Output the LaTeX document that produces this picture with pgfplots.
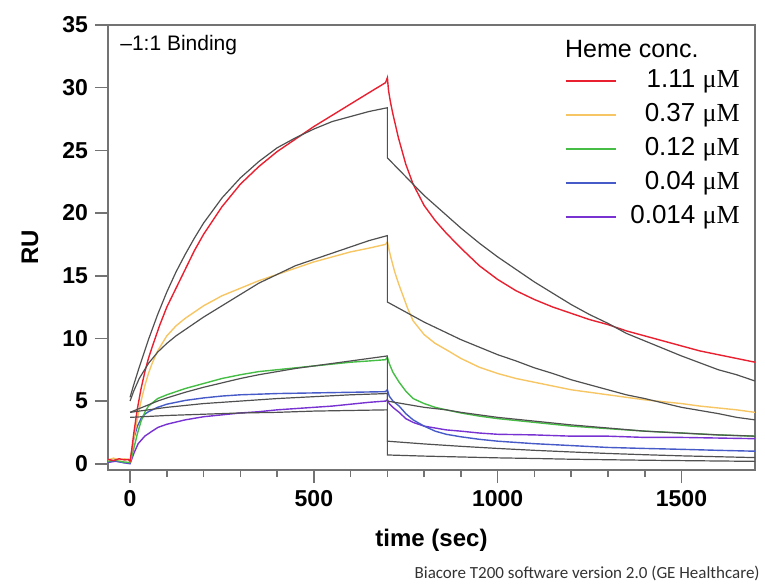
\documentclass[border=0pt]{standalone}
\usepackage{fontspec}
\setmainfont{Liberation Sans}
\newfontfamily\serif{Liberation Serif}
\newfontfamily\carlito{Carlito}
\usepackage{pgfplots}
\pgfplotsset{compat=1.18}
\definecolor{cred}{RGB}{232,32,48}
\definecolor{corange}{RGB}{247,198,100}
\definecolor{cgreen}{RGB}{70,190,70}
\definecolor{cblue}{RGB}{70,90,200}
\definecolor{cpurple}{RGB}{120,50,210}
\definecolor{cfit}{RGB}{80,80,80}
\definecolor{axgray}{RGB}{115,115,115}
\begin{document}
\begin{tikzpicture}
\useasboundingbox (-54pt,-58pt) rectangle (328.5pt,235pt);
\begin{axis}[
  scale only axis, width=323.5pt, height=222.5pt,
  xmin=-60, xmax=1700, ymin=-0.5, ymax=35,
  xtick={0,500,1000,1500}, minor x tick num=4,
  ytick={0,5,10,15,20,25,30,35},
  tick align=outside, tick pos=left,
  major tick length=6.5pt, minor tick length=3.5pt,
  axis line style={draw=axgray, line width=0.8pt},
  every tick/.style={draw=axgray, line width=0.8pt},
  /pgf/number format/assume math mode=true,
  /pgf/number format/1000 sep={},
  ticklabel style={font=\bfseries\fontsize{11.5}{13}\selectfont},
  xlabel={time (sec)}, ylabel={RU},
  xlabel style={at={(axis description cs:0.5,-0.1573)}, anchor=center, font=\bfseries\fontsize{12}{14}\selectfont},
  ylabel style={at={(axis description cs:-0.1206,0.5)}, anchor=center, rotate=0, font=\bfseries\fontsize{12}{14}\selectfont},
  legend style={at={(rel axis cs:0.98,0.908)}, anchor=north east, draw=none, fill=none,
    font=\fontsize{13}{15}\selectfont, row sep=2.5pt, inner sep=0pt,
    nodes={inner sep=1pt, text height=9.5pt, text depth=3pt},
    /tikz/every odd column/.style={column sep=6pt}},
  legend cell align=right,
  legend image code/.code={\draw[#1] (0pt,0pt) -- (25pt,0pt);},
  every axis plot/.append style={line width=0.7pt},
]
\addlegendimage{cred, line width=0.7pt}
\addlegendimage{corange, line width=0.7pt}
\addlegendimage{cgreen, line width=0.7pt}
\addlegendimage{cblue, line width=0.7pt}
\addlegendimage{cpurple, line width=0.7pt}
% experimental curves
\addplot[cpurple, forget plot] coordinates {(-60,0.1) (-40,0.2) (-20,0.1) (0,0.0) (5,0.4) (10,0.8) (22,1.6) (40,2.2) (60,2.6) (76,2.9) (100,3.15) (150,3.5) (200,3.75) (250,3.9) (300,4.05) (350,4.15) (400,4.3) (450,4.4) (500,4.5) (550,4.6) (600,4.75) (650,4.9) (695,5.0) (700,5.1) (705,4.8) (715,4.5) (732,4.1) (750,3.6) (770,3.3) (800,3.0) (830,2.85) (860,2.7) (900,2.6) (950,2.45) (1000,2.35) (1100,2.3) (1200,2.2) (1300,2.2) (1400,2.1) (1500,2.1) (1600,2.05) (1700,2.0)};
\addplot[cblue, forget plot] coordinates {(-60,0.15) (-40,0.25) (-20,0.1) (0,0.05) (5,1.0) (10,2.0) (20,3.0) (30,3.6) (40,3.95) (50,4.15) (75,4.5) (100,4.75) (150,5.05) (200,5.25) (250,5.4) (300,5.5) (400,5.6) (500,5.65) (600,5.7) (695,5.75) (700,5.9) (705,5.4) (715,5.0) (732,4.6) (750,4.0) (770,3.5) (800,3.0) (830,2.6) (860,2.35) (900,2.15) (950,1.95) (1000,1.8) (1100,1.6) (1200,1.45) (1300,1.3) (1400,1.22) (1500,1.15) (1600,1.07) (1700,1.0)};
\addplot[cgreen, forget plot] coordinates {(-60,0.2) (-40,0.3) (-20,0.15) (0,0.1) (5,0.6) (10,1.2) (20,2.4) (30,3.4) (40,4.1) (50,4.6) (75,5.2) (100,5.5) (125,5.75) (150,6.0) (200,6.4) (250,6.8) (300,7.1) (350,7.35) (400,7.5) (450,7.65) (500,7.8) (550,7.95) (600,8.1) (650,8.2) (695,8.3) (700,8.5) (705,8.0) (715,7.3) (732,6.5) (750,5.8) (770,5.2) (800,4.8) (830,4.5) (860,4.3) (900,4.05) (950,3.8) (1000,3.6) (1050,3.45) (1100,3.3) (1150,3.15) (1200,3.0) (1300,2.8) (1400,2.6) (1500,2.45) (1600,2.3) (1700,2.2)};
\addplot[corange, forget plot] coordinates {(-60,0.3) (-45,0.45) (-30,0.3) (-15,0.4) (-5,0.3) (0,0.2) (5,1.1) (10,2.0) (20,3.6) (30,5.0) (40,6.2) (50,7.2) (60,8.0) (75,9.0) (100,10.2) (125,11.0) (150,11.6) (175,12.1) (200,12.6) (250,13.4) (300,14.0) (350,14.6) (400,15.1) (450,15.6) (500,16.1) (550,16.5) (600,16.9) (650,17.2) (695,17.5) (700,17.7) (705,17.0) (710,16.4) (720,15.3) (730,14.4) (740,13.6) (755,12.4) (770,11.4) (800,10.3) (830,9.6) (860,9.1) (900,8.4) (950,7.7) (1000,7.2) (1050,6.8) (1100,6.5) (1150,6.2) (1200,5.9) (1250,5.7) (1300,5.5) (1350,5.3) (1400,5.1) (1450,4.95) (1500,4.8) (1550,4.6) (1600,4.45) (1650,4.3) (1700,4.1)};
\addplot[cred, forget plot] coordinates {(-60,0.35) (-45,0.25) (-30,0.4) (-15,0.3) (-5,0.35) (0,0.2) (5,1.2) (10,2.4) (20,4.4) (30,6.0) (40,7.3) (50,8.4) (60,9.3) (80,11.0) (100,12.5) (125,14.0) (150,15.5) (175,17.0) (200,18.3) (250,20.5) (300,22.3) (350,23.7) (400,24.9) (450,25.9) (500,26.9) (550,27.8) (600,28.7) (650,29.6) (695,30.4) (700,30.8) (703,29.8) (708,28.9) (715,27.9) (730,26.0) (750,23.9) (770,22.3) (800,20.6) (830,19.4) (860,18.4) (900,17.2) (950,15.8) (1000,14.7) (1050,13.8) (1100,13.1) (1150,12.5) (1200,12.0) (1250,11.5) (1300,11.1) (1350,10.6) (1400,10.2) (1450,9.8) (1500,9.4) (1550,9.0) (1600,8.7) (1650,8.4) (1700,8.1)};
% 1:1 binding fits
\addplot[cfit, line width=0.6pt, forget plot] coordinates {(0,3.7) (100,3.85) (200,3.95) (300,4.05) (400,4.1) (500,4.2) (600,4.25) (700,4.3) (700,0.7) (800,0.61) (900,0.54) (1000,0.47) (1100,0.42) (1200,0.36) (1300,0.32) (1400,0.28) (1500,0.25) (1600,0.22) (1700,0.19)};
\addplot[cfit, line width=0.6pt, forget plot] coordinates {(0,4.1) (50,4.3) (100,4.5) (150,4.65) (200,4.8) (300,5.0) (400,5.2) (500,5.35) (600,5.5) (700,5.6) (700,1.8) (800,1.58) (900,1.39) (1000,1.22) (1100,1.07) (1200,0.94) (1300,0.82) (1400,0.72) (1500,0.63) (1600,0.56) (1700,0.49)};
\addplot[cfit, line width=0.6pt, forget plot] coordinates {(0,4.1) (25,4.4) (50,4.7) (75,5.0) (100,5.25) (150,5.7) (200,6.1) (250,6.45) (300,6.8) (350,7.1) (400,7.35) (450,7.6) (500,7.8) (550,8.0) (600,8.2) (650,8.4) (700,8.6) (700,5.0) (760,4.7) (800,4.5) (860,4.3) (900,4.1) (1000,3.7) (1100,3.4) (1200,3.1) (1300,2.85) (1400,2.6) (1500,2.45) (1600,2.3) (1700,2.2)};
\addplot[cfit, line width=0.6pt, forget plot] coordinates {(0,5.0) (10,5.8) (25,6.8) (50,8.0) (75,8.9) (100,9.6) (125,10.2) (150,10.7) (200,11.7) (250,12.6) (300,13.5) (350,14.4) (400,15.1) (450,15.8) (500,16.3) (550,16.8) (600,17.3) (650,17.8) (700,18.2) (700,12.9) (750,12.1) (800,11.3) (850,10.6) (900,9.9) (950,9.3) (1000,8.7) (1050,8.2) (1100,7.65) (1150,7.2) (1200,6.7) (1250,6.3) (1300,5.9) (1350,5.5) (1400,5.2) (1450,4.85) (1500,4.5) (1550,4.25) (1600,4.0) (1650,3.7) (1700,3.5)};
\addplot[cfit, line width=0.6pt, forget plot] coordinates {(0,5.3) (10,6.3) (25,7.7) (50,9.9) (75,11.9) (100,13.7) (125,15.3) (150,16.7) (175,18.0) (200,19.2) (250,21.2) (300,22.8) (350,24.1) (400,25.2) (450,26.0) (500,26.7) (550,27.3) (600,27.7) (650,28.1) (700,28.4) (700,24.4) (750,22.9) (800,21.4) (850,20.1) (900,18.8) (950,17.6) (1000,16.5) (1050,15.5) (1100,14.5) (1150,13.6) (1200,12.7) (1250,11.9) (1300,11.2) (1350,10.4) (1400,9.8) (1450,9.2) (1500,8.6) (1550,8.05) (1600,7.5) (1650,7.1) (1700,6.6)};
\legend{1.11 {\serif μM}, 0.37 {\serif μM}, 0.12 {\serif μM}, 0.04 {\serif μM}, 0.014 {\serif μM}}
\node[anchor=west, font=\fontsize{10.5}{12}\selectfont, inner sep=0pt] at (rel axis cs:0.0185,0.955) {–1:1 Binding};
\node[anchor=base west, font=\fontsize{12.5}{14}\selectfont, inner sep=0pt] at (rel axis cs:0.706,0.926) {Heme conc.};
\end{axis}
\node[anchor=base east, font=\carlito\fontsize{8.5}{10}\selectfont, inner sep=0pt, text=black!80] at (326pt,-54pt) {Biacore T200 software version 2.0 (GE Healthcare)};
\end{tikzpicture}
\end{document}
